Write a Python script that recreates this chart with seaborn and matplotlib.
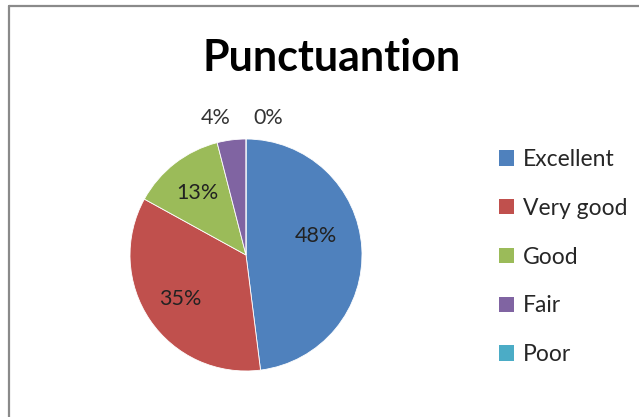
import matplotlib
matplotlib.use("Agg")
import matplotlib.pyplot as plt
from matplotlib.patches import Patch
from matplotlib.lines import Line2D
import seaborn as sns

# data
categories = ["Excellent", "Very good", "Good", "Fair", "Poor"]
percent = [48, 35, 13, 4, 0]
colors = ["#4F81BD", "#C0504D", "#9BBB59", "#8064A2", "#4BACC6"]
title = "Punctuantion"

sns.set_style("white")
plt.rcParams["font.family"] = ["Lato", "DejaVu Sans"]

W, H = 639, 417
fig = plt.figure(figsize=(W / 100, H / 100), dpi=100)

# pie axes: centre (246, 255) px, radius ~116 px
cx, cy, r = 246, 255, 116
ax = fig.add_axes([(cx - r) / W, (H - cy - r) / H, 2 * r / W, 2 * r / H])
wedges, texts, autotexts = ax.pie(
    percent, colors=colors, startangle=90, counterclock=False,
    autopct="%1.0f%%", pctdistance=0.68,
    wedgeprops=dict(edgecolor="white", linewidth=0.6),
    textprops=dict(fontsize=15.5, color="#222222"),
)
ax.set_xlim(-1, 1)
ax.set_ylim(-1, 1)
ax.set_aspect("equal")

# Excel puts the tiny slices' labels outside, spread apart
autotexts[0].set_position((0.6, 0.16))
autotexts[3].set_position((-0.26, 1.18))
autotexts[4].set_position((0.19, 1.18))
for t in autotexts[3:]:
    t.set_color("#333333")

fig.text(332 / W, 1 - 58 / H, title, ha="center", va="center",
         fontsize=31, fontweight="bold", color="black")

handles = [Patch(facecolor=c, edgecolor="none") for c in colors]
fig.legend(handles, categories, loc="upper left",
           bbox_to_anchor=(490 / W, 1 - 140 / H), frameon=False,
           fontsize=16.5, handlelength=0.65, handleheight=0.65,
           handletextpad=0.4, labelspacing=1.21, borderaxespad=0)

# chart border (only left and top visible in the crop)
grey = "#8a8a8a"
fig.add_artist(Line2D([8.5 / W, 8.5 / W], [0, 1 - 5.5 / H], color=grey, lw=1.6))
fig.add_artist(Line2D([8.5 / W, 1], [1 - 5.5 / H, 1 - 5.5 / H], color=grey, lw=1.6))

fig.savefig("out.png", dpi=100)
